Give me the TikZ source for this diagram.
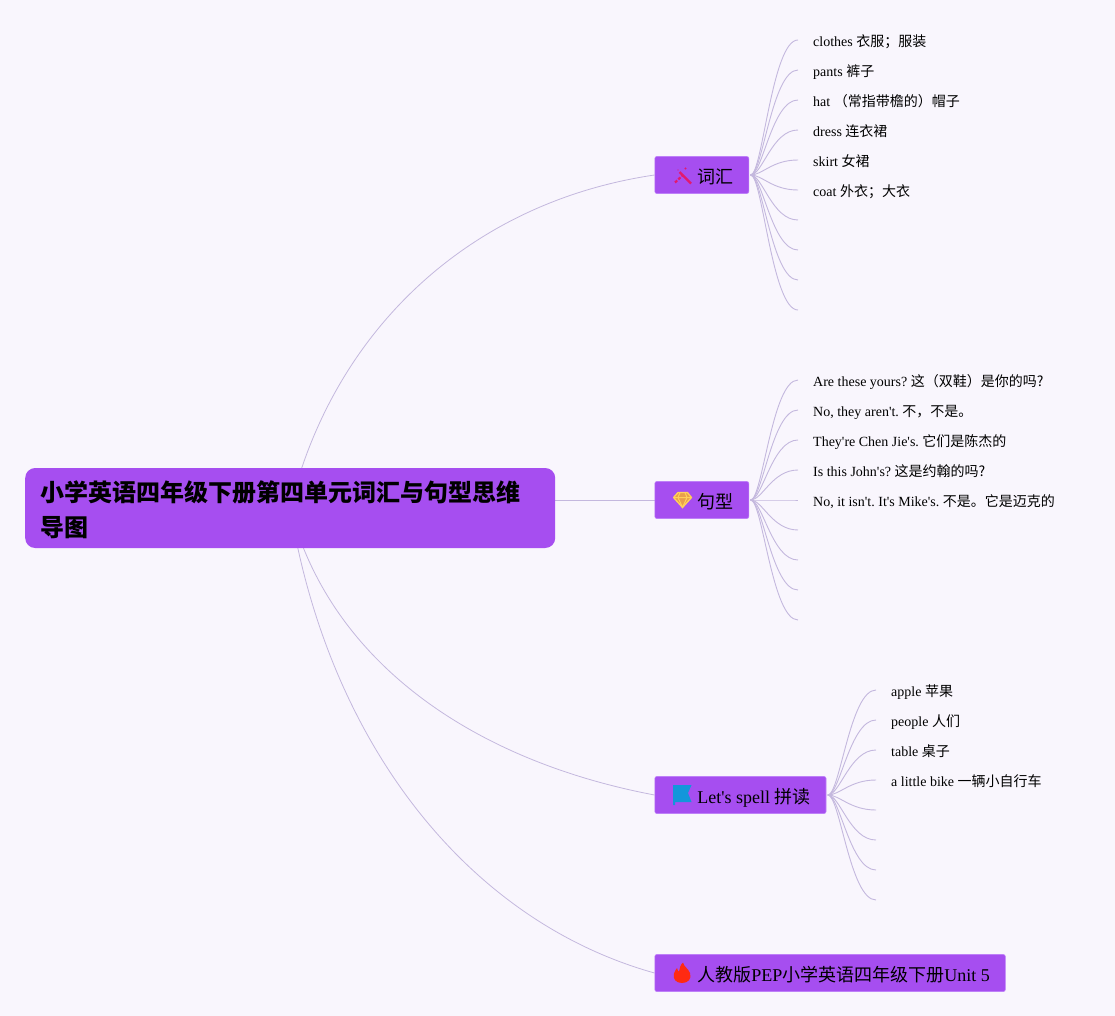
\documentclass[tikz,border=0pt]{standalone}
\usepackage{fontspec}
\usetikzlibrary{calc}
\setmainfont{Liberation Serif}[Ligatures=TeXOff]
\newfontfamily\cjk{Noto Sans CJK SC}
\newcommand{\zh}[1]{{\cjk #1}}
\definecolor{pagebg}{HTML}{F9F6FD}
\definecolor{boxfill}{HTML}{A64EF0}
\definecolor{boxline}{HTML}{BE80F8}
\definecolor{linkc}{HTML}{C4B8DE}
\definecolor{wandc}{HTML}{E2196E}
\definecolor{gemc}{HTML}{FFD05A}
\definecolor{gemin}{HTML}{E9A04A}
\definecolor{flagc}{HTML}{1296DB}
\definecolor{firec}{HTML}{FF2A12}
\pgfdeclarelayer{edges}
\pgfsetlayers{edges,main}
\tikzset{
  x=1pt,y=-1pt,
  rootbox/.style={fill=boxfill,rounded corners=10pt,minimum width=530pt,minimum height=80pt,text width=500pt,inner xsep=15pt,inner ysep=0pt,anchor=west,align=left,font=\fontsize{24}{35}\selectfont\bfseries},
  branchbox/.style={fill=boxfill,draw=boxline,line width=0.6pt,rounded corners=2pt,minimum height=37pt,inner xsep=15.5pt,inner ysep=0pt,anchor=west,text height=16.6pt,text depth=0pt,font=\fontsize{18}{22}\selectfont\frenchspacing},
  leafnode/.style={anchor=west,inner xsep=15pt,inner ysep=0pt,text height=12.8pt,text depth=0pt,font=\fontsize{14}{17}\selectfont\frenchspacing},
  rootlink/.style={draw=linkc,line width=0.8pt},
  leaflink/.style={draw=linkc,line width=0.9pt},
}
\begin{document}
\begin{tikzpicture}
\useasboundingbox (0,0) rectangle (1115,1016);
\begin{pgfonlayer}{edges}
\fill[pagebg] (0,0) rectangle (1115,1016);
\end{pgfonlayer}
\node[rootbox] (root) at (25,508) {\rule{0pt}{25pt}\zh{小学英语四年级下册第四单元词汇与句型思维}\\\zh{导图}};
\node[branchbox] (b1) at (654.5,175) {\hspace*{27pt}\zh{词汇}};
\node[branchbox] (b2) at (654.5,500) {\hspace*{27pt}\zh{句型}};
\node[branchbox] (b3) at (654.5,795) {\hspace*{27pt}Let's spell \zh{拼读}};
\node[branchbox] (b4) at (654.5,973) {\hspace*{27pt}\zh{人教版}PEP\zh{小学英语四年级下册}Unit 5};
% icons
\draw[line width=2.4pt,color=wandc] (679.5,172) -- (691,183.5);
\draw[line width=2.2pt,color=wandc,dash pattern=on 3pt off 1.5pt] (675,182.5) -- (683,175);
\fill[wandc] (685.5,168.5) circle (1.2pt);
\fill[wandc] (678,170) circle (0.7pt);
\filldraw[fill=gemin,draw=gemc,line width=1.3pt,line join=round] (678,492.5) -- (687.5,492.5) -- (691.5,497.5) -- (682.5,507.5) -- (673.5,497.5) -- cycle;
\draw[gemc,line width=1pt] (673.5,497.5) -- (691.5,497.5) (678,497.5) -- (682.5,507.5) -- (687,497.5) (680,492.5) -- (678,497.5) (685,492.5) -- (687,497.5);
\fill[flagc] (673,785) -- (691.5,785) -- (688,793) -- (691.5,802) -- (675,802) -- (675,805) -- (673,805) -- cycle;
\fill[firec] (683,962.5) .. controls (684,967) and (688,968) .. (690,973) .. controls (692,979) and (688,983) .. (682,983) .. controls (676,983) and (672.5,979) .. (674,973.5) .. controls (675,971) and (676,969) .. (677,968) .. controls (677.5,970) and (678,971) .. (679,971.5) .. controls (680,968) and (680,965) .. (683,962.5) -- cycle;
% leaves group 1
\node[leafnode] (a1) at (798,40) {clothes \zh{衣服；服装}};
\node[leafnode] (a2) at (798,70) {pants \zh{裤子}};
\node[leafnode] (a3) at (798,100) {hat \zh{（常指带檐的）帽子}};
\node[leafnode] (a4) at (798,130) {dress \zh{连衣裙}};
\node[leafnode] (a5) at (798,160) {skirt \zh{女裙}};
\node[leafnode] (a6) at (798,190) {coat \zh{外衣；大衣}};
\coordinate (a7) at (798,220);
\coordinate (a8) at (798,250);
\coordinate (a9) at (798,280);
\coordinate (a10) at (798,310);
% leaves group 2
\node[leafnode] (c1) at (798,380) {Are these yours? \zh{这（双鞋）是你的吗?}};
\node[leafnode] (c2) at (798,410) {No, they aren't. \zh{不，不是。}};
\node[leafnode] (c3) at (798,440) {They're Chen Jie's. \zh{它们是陈杰的}};
\node[leafnode] (c4) at (798,470) {Is this John's? \zh{这是约翰的吗?}};
\node[leafnode] (c5) at (798,500) {No, it isn't. It's Mike's. \zh{不是。它是迈克的}};
\coordinate (c6) at (798,530);
\coordinate (c7) at (798,560);
\coordinate (c8) at (798,590);
\coordinate (c9) at (798,620);
% leaves group 3
\node[leafnode] (d1) at (876,690) {apple \zh{苹果}};
\node[leafnode] (d2) at (876,720) {people \zh{人们}};
\node[leafnode] (d3) at (876,750) {table \zh{桌子}};
\node[leafnode] (d4) at (876,780) {a little bike \zh{一辆小自行车}};
\coordinate (d5) at (876,810);
\coordinate (d6) at (876,840);
\coordinate (d7) at (876,870);
\coordinate (d8) at (876,900);
\coordinate (s1) at ($(b1.east)+(1.5,0)$);
\coordinate (s2) at ($(b2.east)+(1.5,0)$);
\coordinate (s3) at ($(b3.east)+(1.5,0)$);
\begin{pgfonlayer}{edges}
\draw[rootlink] (root.center) .. controls (332,335) and (465,203) .. (b1.west);
\draw[rootlink] (root.east |- b2.west) -- (b2.west);
\draw[rootlink] (root.center) .. controls (330,660) and (470,760) .. (b3.west);
\draw[rootlink] (root.center) .. controls (328,740) and (465,920) .. (b4.west);
\foreach \n in {a1,a2,a3,a4,a5,a6} {
  \draw[leaflink] (s1) .. controls ($(s1)!0.25!(\n.west |- s1)$) and ($(\n.west)+(-26,0)$) .. (\n.west);
}
\foreach \n in {a7,a8,a9,a10} {
  \draw[leaflink] (s1) .. controls ($(s1)!0.25!(\n |- s1)$) and ($(\n)+(-26,0)$) .. (\n);
}
\foreach \n in {c1,c2,c3,c4,c5} {
  \draw[leaflink] (s2) .. controls ($(s2)!0.25!(\n.west |- s2)$) and ($(\n.west)+(-26,0)$) .. (\n.west);
}
\foreach \n in {c6,c7,c8,c9} {
  \draw[leaflink] (s2) .. controls ($(s2)!0.25!(\n |- s2)$) and ($(\n)+(-26,0)$) .. (\n);
}
\foreach \n in {d1,d2,d3,d4} {
  \draw[leaflink] (s3) .. controls ($(s3)!0.25!(\n.west |- s3)$) and ($(\n.west)+(-26,0)$) .. (\n.west);
}
\foreach \n in {d5,d6,d7,d8} {
  \draw[leaflink] (s3) .. controls ($(s3)!0.25!(\n |- s3)$) and ($(\n)+(-26,0)$) .. (\n);
}
\end{pgfonlayer}
\end{tikzpicture}
\end{document}
